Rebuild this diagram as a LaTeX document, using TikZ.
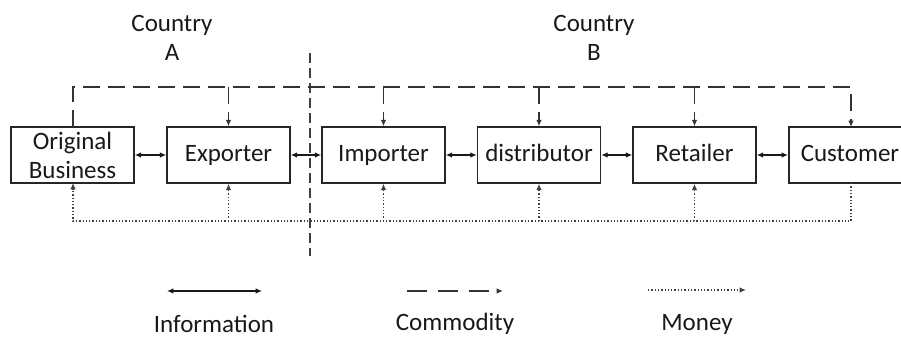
\documentclass[tikz,border=0pt]{standalone}
\usepackage{fontspec}
\setmainfont{Carlito}
\usetikzlibrary{arrows.meta}
\begin{document}
\begin{tikzpicture}[x=0.5pt,y=-0.5pt,
  txt/.style={font=\fontsize{12.5}{14.5}\selectfont, text=black!90},
  party/.style={txt, draw=black!85, line width=0.75pt, minimum width=61.5pt,
    minimum height=28pt, inner sep=0pt, align=center},
  oneline/.style={text height=1.75ex, text depth=0.45ex},
  tip/.style={-{Latex[length=3.2pt,width=2.8pt]}},
  info/.style={line width=0.75pt, draw=black!90, {Latex[length=3.2pt,width=2.8pt]}-{Latex[length=3.2pt,width=2.8pt]}},
  commodity/.style={line width=0.65pt, draw=black!80, dash pattern=on 8.5pt off 4pt},
  money/.style={line width=0.65pt, draw=black!75, densely dotted},
  border/.style={line width=0.9pt, draw=black!75, dash pattern=on 5pt off 2.5pt}]
\useasboundingbox (0,0) rectangle (901,338);

% headings for the two countries
\node[txt, align=center] (ca) at (172,38) {Country\\A};
\node[txt, align=center] (cb) at (594,38) {Country\\B};

% border between the countries
\coordinate (bt) at (310,53);
\coordinate (bb) at (310,256);
\draw[border] (bt) -- (bb);

% chain of parties
\node[party] (ob) at (72.5,155) {Original\\Business};
\node[party, oneline] (ex) at (228.5,155) {Exporter};
\node[party, oneline] (im) at (383.5,155) {Importer};
\node[party, oneline] (di) at (539,155) {distributor};
\node[party, oneline] (re) at (694.5,155) {Retailer};
\node[party, oneline, anchor=west, minimum width=70pt, inner xsep=6pt,
  text width=58pt, align=left] (cu) at (788,155) {Customer};

% information flows between neighbours
\draw[info] (ob) -- (ex);
\draw[info] (ex) -- (im);
\draw[info] (im) -- (di);
\draw[info] (di) -- (re);
\draw[info] (re) -- (cu);

% commodity line along the top
\coordinate (cu-top) at (851,127);
\coordinate (cu-bot) at (851,183);
\coordinate (ob-top) at (73,127);
\coordinate (ob-bot) at (73,183);
\draw[commodity, tip] (ob-top) -- (73,87) -- (851,87) -- (cu-top);
\foreach \n in {ex,im,di,re}
  \draw[commodity, tip] (\n.north |- 0,87) -- (\n.north);

% money line along the bottom
\draw[money, tip] (cu-bot) -- (851,221) -- (73,221) -- (ob-bot);
\foreach \n in {ex,im,di,re}
  \draw[money, tip] (\n.south |- 0,221) -- (\n.south);

% key
\coordinate (ka1) at (167,291);
\coordinate (ka2) at (262,291);
\coordinate (kb1) at (407,291);
\coordinate (kb2) at (503,291);
\coordinate (kc1) at (648,290);
\coordinate (kc2) at (746,290);
\draw[info] (ka1) -- (ka2);
\draw[commodity, dash pattern=on 10pt off 5.5pt, tip] (kb1) -- (kb2);
\draw[money, tip] (kc1) -- (kc2);
\node[txt] (kla) at (214,324) {Information};
\node[txt] (klb) at (455,324) {Commodity};
\node[txt] (klc) at (697,324) {Money};
\end{tikzpicture}
\end{document}
